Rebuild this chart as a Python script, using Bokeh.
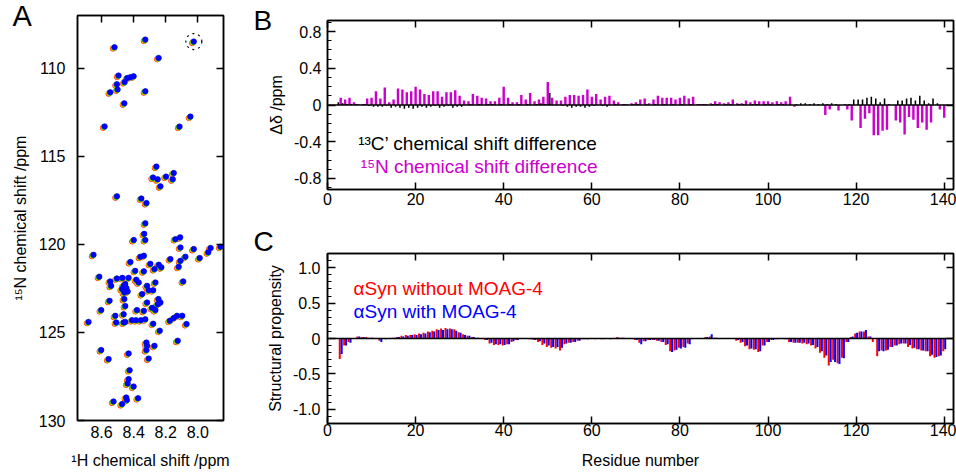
from bokeh.plotting import figure
from bokeh.layouts import row, column
from bokeh.models import (Range1d, FixedTicker, LinearAxis, Span, Label,
                          ColumnDataSource, NumeralTickFormatter)
from bokeh.transform import dodge
from bokeh.embed import file_html
from bokeh.resources import INLINE

FONT = "Liberation Sans"

# ---------------- Panel A: 1H-15N spectrum peaks (final / blue positions) ----
peak_h = [8.327, 8.025, 8.519, 8.244, 8.494, 8.44, 8.42, 8.40, 8.504, 8.456,
          8.546, 8.50, 8.327, 8.458, 8.581, 8.114, 8.046, 8.258, 8.279, 8.250,
          8.198, 8.156, 8.150, 8.233, 8.504, 8.352, 8.320, 8.327, 8.334, 8.327,
          8.399, 8.140, 8.110, 8.108, 8.025, 7.920, 7.858, 7.935, 7.988, 8.650,
          8.336, 8.358, 8.420, 8.296, 8.243, 8.227, 8.171, 8.108, 8.077, 8.119,
          8.270, 8.390, 8.336, 8.614, 8.504, 8.470, 8.546, 8.540, 8.431, 8.383,
          8.368, 8.452, 8.462, 8.445, 8.472, 8.458, 8.437, 8.264, 8.316, 8.091,
          8.306, 8.278, 8.347, 8.550, 8.458, 8.452, 8.245, 8.233, 8.250, 8.316,
          8.602, 8.379, 8.336, 8.285, 8.264, 8.514, 8.462, 8.681, 8.508, 8.462,
          8.452, 8.410, 8.385, 8.355, 8.327, 8.278, 8.174, 8.150, 8.129, 8.097,
          8.070, 8.237, 8.125, 8.320, 8.316, 8.320, 8.270, 8.602, 8.556, 8.431,
          8.306, 8.425, 8.431, 8.437, 8.400, 8.525, 8.472, 8.446, 8.442, 8.372]
peak_n = [108.37, 108.48, 108.80, 109.41, 110.41, 110.55, 110.50, 110.45, 110.90, 110.78,
          111.36, 111.20, 111.30, 111.99, 113.30, 113.31, 112.74, 115.58, 116.20, 116.30,
          116.15, 116.30, 115.94, 116.70, 117.27, 117.39, 117.65, 118.80, 119.40, 119.75,
          119.75, 119.70, 119.60, 120.17, 120.26, 120.20, 120.13, 120.45, 120.77, 120.59,
          120.64, 120.70, 121.00, 121.10, 121.15, 121.30, 120.83, 120.93, 120.70, 121.27,
          121.40, 121.50, 121.53, 121.83, 121.93, 121.90, 122.10, 122.35, 121.90, 122.00,
          122.16, 122.25, 122.35, 122.48, 122.53, 122.73, 122.67, 122.16, 122.35, 122.10,
          122.60, 122.60, 122.82, 123.20, 123.10, 123.50, 123.10, 123.30, 123.40, 123.30,
          123.73, 123.73, 123.77, 123.60, 123.73, 124.05, 123.96, 124.40, 124.43, 124.43,
          124.40, 124.30, 124.30, 124.30, 124.25, 124.50, 124.33, 124.18, 124.05, 124.05,
          124.52, 124.90, 125.47, 125.57, 125.76, 126.00, 125.76, 126.00, 126.51, 126.19,
          126.48, 127.14, 127.65, 127.90, 128.07, 128.92, 129.07, 128.69, 128.84, 128.73]
titration_colors = ["#ff0000", "#ff9900", "#e8e000", "#00c000", "#0000ff"]
titration_dh = [0.010, 0.0075, 0.005, 0.0025, 0.0]
titration_dn = [0.08, 0.06, 0.04, 0.02, 0.0]
circled_h = [8.025]
circled_n = [108.48]
a_x_ticks = [8.0, 8.2, 8.4, 8.6]
a_y_ticks = [110, 115, 120, 125, 130]

# ---------------- Panel B / C: per-residue data ---------------------------------
residues = list(range(1, 141))
n15_diff = [0.0, 0.0, 0.08, 0.06, 0.08, 0.03, 0.01, 0.01, 0.07, 0.08,
            0.15, 0.07, 0.19, 0.03, 0.06, 0.18, 0.17, 0.14, 0.15, 0.20,
            0.17, 0.12, 0.11, 0.15, 0.15, 0.09, 0.14, 0.14, 0.16, 0.10,
            0.05, 0.04, 0.12, 0.10, 0.08, 0.07, 0.04, 0.04, 0.08, 0.20,
            0.08, 0.03, 0.03, 0.11, 0.06, 0.13, 0.04, 0.06, 0.09, 0.25,
            0.08, 0.05, 0.05, 0.09, 0.11, 0.11, 0.10, 0.11, 0.17, 0.09,
            0.12, 0.06, 0.09, 0.10, 0.05, 0.03, 0.01, 0.01, 0.02, 0.03,
            0.06, 0.07, 0.02, 0.06, 0.10, 0.08, 0.08, 0.08, 0.06, 0.08,
            0.10, 0.07, 0.09, 0.01, 0.01, 0.01, 0.02, 0.04, 0.03, 0.02,
            0.03, 0.06, 0.02, 0.02, 0.05, 0.03, 0.05, 0.04, 0.04, 0.04,
            0.03, 0.04, 0.03, 0.04, 0.09, -0.02, 0.0, 0.0, 0.0, 0.0,
            0.0, 0.0, -0.11, -0.05, 0.0, -0.06, 0.0, -0.05, -0.17, 0.0,
            -0.25, -0.15, -0.09, -0.33, -0.33, -0.28, -0.27, 0.0, -0.17, -0.19,
            -0.32, -0.13, -0.16, -0.25, -0.19, -0.27, -0.19, 0.0, -0.05, -0.14]
c13_diff = [0.0, 0.03, 0.02, 0.01, 0.01, 0.01, 0.0, 0.01, -0.01, -0.02,
            -0.02, -0.02, -0.01, -0.03, -0.02, -0.03, -0.04, -0.03, -0.04, -0.03,
            -0.02, -0.03, -0.02, -0.01, -0.03, -0.02, -0.01, -0.03, -0.02, -0.02,
            0.0, 0.01, 0.0, 0.01, 0.0, 0.01, 0.01, 0.0, 0.01, 0.0,
            0.01, 0.0, 0.01, 0.0, 0.01, 0.0, 0.01, 0.02, 0.01, 0.13,
            0.0, 0.0, -0.01, -0.02, -0.03, -0.02, -0.02, -0.03, -0.02, -0.01,
            0.0, -0.01, -0.02, 0.0, 0.01, 0.0, 0.01, 0.0, 0.01, 0.01,
            0.0, 0.01, 0.0, 0.01, 0.0, 0.01, 0.0, 0.01, 0.0, 0.01,
            0.0, 0.01, 0.0, 0.01, 0.01, 0.0, 0.01, 0.01, 0.0, 0.01,
            0.01, 0.0, 0.01, 0.01, 0.0, 0.01, 0.01, 0.0, 0.01, 0.01,
            0.0, 0.01, 0.01, 0.0, 0.0, 0.01, 0.02, 0.02, 0.01, 0.02,
            0.01, 0.02, 0.01, 0.02, 0.01, 0.0, 0.01, 0.01, 0.06, 0.06,
            0.06, 0.08, 0.09, 0.07, 0.03, 0.07, 0.01, 0.0, 0.05, 0.05,
            0.07, 0.08, 0.05, 0.10, 0.05, 0.02, 0.07, 0.02, 0.0, 0.0]
prop_without = [0.0, 0.0, -0.29, -0.10, -0.05, 0.0, 0.03, 0.02, 0.02, 0.01,
                0.0, -0.03, 0.0, 0.0, 0.01, 0.02, 0.04, 0.05, 0.05, 0.06,
                0.07, 0.08, 0.10, 0.11, 0.13, 0.14, 0.15, 0.14, 0.13, 0.09,
                0.06, 0.04, 0.02, 0.01, 0.0, -0.02, -0.07, -0.09, -0.09, -0.10,
                -0.08, -0.05, -0.02, 0.0, 0.0, -0.01, -0.02, -0.05, -0.09, -0.12,
                -0.13, -0.14, -0.17, -0.08, -0.06, -0.05, -0.03, -0.01, -0.01, 0.0,
                -0.01, 0.0, -0.01, 0.0, 0.0, 0.02, 0.01, 0.0, 0.0, -0.02,
                -0.06, -0.04, -0.02, -0.02, -0.03, -0.05, -0.09, -0.18, -0.17, -0.13,
                -0.12, -0.07, -0.01, 0.0, 0.0, 0.02, 0.03, 0.01, 0.0, 0.0,
                0.0, 0.0, -0.03, -0.06, -0.11, -0.15, -0.16, -0.19, -0.10, -0.05,
                -0.02, -0.01, 0.0, -0.01, -0.05, -0.06, -0.06, -0.07, -0.08, -0.10,
                -0.14, -0.20, -0.27, -0.38, -0.30, -0.35, -0.27, -0.05, 0.02, 0.07,
                0.10, 0.10, 0.03, -0.05, -0.25, -0.17, -0.17, -0.12, -0.10, -0.08,
                -0.07, -0.12, -0.14, -0.15, -0.17, -0.18, -0.25, -0.27, -0.25, -0.18]
prop_with = [0.0, 0.0, -0.22, -0.10, -0.06, 0.0, 0.03, 0.02, 0.01, 0.01,
             0.0, -0.05, -0.01, 0.0, 0.01, 0.02, 0.03, 0.04, 0.05, 0.05,
             0.06, 0.07, 0.09, 0.10, 0.12, 0.12, 0.13, 0.13, 0.11, 0.08,
             0.05, 0.04, 0.02, 0.01, 0.0, -0.02, -0.06, -0.08, -0.08, -0.09,
             -0.08, -0.04, -0.02, 0.0, 0.0, -0.01, -0.02, -0.04, -0.07, -0.10,
             -0.12, -0.12, -0.13, -0.07, -0.06, -0.05, -0.03, -0.01, -0.01, 0.0,
             0.0, -0.01, 0.0, -0.01, 0.0, 0.01, 0.01, 0.0, 0.0, -0.02,
             -0.08, -0.04, -0.02, -0.02, -0.03, -0.05, -0.08, -0.19, -0.16, -0.14,
             -0.13, -0.08, 0.0, 0.0, 0.0, 0.02, 0.06, 0.01, 0.0, 0.0,
             0.0, 0.0, -0.02, -0.05, -0.10, -0.14, -0.15, -0.18, -0.10, -0.05,
             -0.02, -0.01, 0.0, -0.01, -0.05, -0.06, -0.06, -0.06, -0.07, -0.09,
             -0.12, -0.18, -0.24, -0.33, -0.33, -0.36, -0.28, -0.05, 0.03, 0.08,
             0.10, 0.12, 0.03, 0.0, -0.18, -0.18, -0.16, -0.12, -0.10, -0.07,
             -0.07, -0.09, -0.13, -0.15, -0.17, -0.18, -0.23, -0.26, -0.24, -0.15]
res_ticks = [0, 20, 40, 60, 80, 100, 120, 140]
b_y_ticks = [-0.8, -0.4, 0, 0.4, 0.8]
b_y_minor = [-0.9, -0.8, -0.7, -0.6, -0.5, -0.4, -0.3, -0.2, -0.1, 0, 0.1, 0.2,
             0.3, 0.4, 0.5, 0.6, 0.7, 0.8, 0.9]
c_y_ticks = [-1.0, -0.5, 0, 0.5, 1.0]
c_y_minor = [-1.1, -1.0, -0.9, -0.8, -0.7, -0.6, -0.5, -0.4, -0.3, -0.2, -0.1, 0,
             0.1, 0.2, 0.3, 0.4, 0.5, 0.6, 0.7, 0.8, 0.9, 1.0, 1.1]

MAGENTA = "#cc00cc"


def style_axis(ax, tick_len=7, minor_len=0, standoff=4, label_standoff=8):
    ax.major_tick_in = tick_len
    ax.major_tick_out = 0
    ax.minor_tick_in = minor_len
    ax.minor_tick_out = 0
    ax.axis_line_color = "black"
    ax.axis_line_width = 1.5
    ax.major_tick_line_color = "black"
    ax.major_tick_line_width = 1.5
    ax.minor_tick_line_color = "black"
    ax.minor_tick_line_width = 1.2
    ax.major_label_text_font = FONT
    ax.major_label_text_font_size = "16px"
    ax.major_label_text_color = "black"
    ax.major_label_standoff = standoff
    ax.axis_label_text_font = FONT
    ax.axis_label_text_font_size = "16px"
    ax.axis_label_text_font_style = "normal"
    ax.axis_label_text_color = "black"
    ax.axis_label_standoff = label_standoff


def tick_only_axis(positions, length):
    # axis that draws only inward tick marks (no labels)
    ax = LinearAxis(ticker=FixedTicker(ticks=[], minor_ticks=positions))
    ax.major_tick_in = 0
    ax.major_tick_out = 0
    ax.minor_tick_in = length
    ax.minor_tick_out = 0
    ax.minor_tick_line_color = "black"
    ax.minor_tick_line_width = 1.5
    ax.axis_line_color = "black"
    ax.axis_line_width = 1.5
    ax.major_label_standoff = 0
    return ax


def base_fig(letter, offset, standoff, font_size, **kw):
    p = figure(output_backend="svg", toolbar_location=None, **kw)
    p.xgrid.visible = False
    p.ygrid.visible = False
    p.outline_line_color = "black"
    p.outline_line_width = 1.5
    p.outline_line_alpha = 1.0
    p.background_fill_color = "white"
    p.border_fill_color = "white"
    p.title.text = letter
    p.title.align = "left"
    p.title.offset = offset
    p.title.standoff = standoff
    p.title.vertical_align = "bottom"
    p.title.text_font = FONT
    p.title.text_font_size = font_size
    p.title.text_font_style = "normal"
    p.title.text_color = "black"
    return p


# ---------------- Panel A ----------------
pa = base_fig("A", -65, -32, "29px", width=234, height=472,
              x_range=Range1d(8.75, 7.84), y_range=Range1d(130, 107),
              min_border_left=77, min_border_right=11, min_border_top=15,
              min_border_bottom=52,
              x_axis_label="¹H chemical shift /ppm",
              y_axis_label="¹⁵N chemical shift /ppm")
pa.xaxis.ticker = FixedTicker(ticks=a_x_ticks)
pa.yaxis.ticker = FixedTicker(ticks=a_y_ticks)
pa.xaxis.formatter = NumeralTickFormatter(format="0.0")
style_axis(pa.xaxis[0], tick_len=0, standoff=5, label_standoff=11)
style_axis(pa.yaxis[0], tick_len=7, standoff=12, label_standoff=7)
pa.add_layout(tick_only_axis(a_x_ticks, 7), "above")
pa.add_layout(tick_only_axis(a_y_ticks, 7), "right")

for col, dh, dn in zip(titration_colors, titration_dh, titration_dn):
    pa.scatter([h + dh for h in peak_h], [n + dn for n in peak_n],
               size=5.5, marker="circle", fill_color=col, line_color=col,
               line_width=0.5)
pa.scatter(circled_h, circled_n, size=16, marker="circle", fill_color=None,
           line_color="black", line_dash="dotted", line_width=1.2)

# ---------------- Panel B ----------------
src = ColumnDataSource(dict(res=residues, n15=n15_diff, c13=c13_diff,
                            wo=prop_without, w=prop_with))

pb = base_fig("B", -74, -31, "28px", width=722, height=222,
              x_range=Range1d(0, 142.1), y_range=Range1d(-0.92, 0.92),
              min_border_left=93, min_border_right=3, min_border_top=20,
              min_border_bottom=33, y_axis_label="Δδ /ppm")
pb.xaxis.ticker = FixedTicker(ticks=res_ticks)
pb.yaxis.ticker = FixedTicker(ticks=b_y_ticks, minor_ticks=b_y_minor)
pb.yaxis.formatter = NumeralTickFormatter(format="0.0")
pb.yaxis.major_label_overrides = {0: "0"}
style_axis(pb.xaxis[0], tick_len=7, standoff=3)
style_axis(pb.yaxis[0], tick_len=8, minor_len=4, standoff=6, label_standoff=6)
pb.add_layout(tick_only_axis(res_ticks, 7), "above")
pb.add_layout(tick_only_axis(b_y_ticks, 7), "right")

pb.vbar(x="res", top="n15", bottom=0, width=0.55, source=src,
        fill_color=MAGENTA, line_color=None)
pb.vbar(x=dodge("res", 0.45, range=pb.x_range), top="c13", bottom=0, width=0.35,
        source=src, fill_color="black", line_color=None)
pb.add_layout(Span(location=0, dimension="width", line_color="black", line_width=1.5))
pb.add_layout(Label(x=270, y=46, x_units="screen", y_units="screen",
                    text="¹³C’ chemical shift difference", text_align="right",
                    text_font=FONT, text_font_size="19px",
                    text_baseline="alphabetic", text_color="black"))
pb.add_layout(Label(x=270, y=23, x_units="screen", y_units="screen",
                    text="¹⁵N chemical shift difference", text_align="right",
                    text_font=FONT, text_font_size="19px",
                    text_baseline="alphabetic", text_color=MAGENTA))

# ---------------- Panel C ----------------
pc = base_fig("C", -74, -6, "28px", width=722, height=250,
              x_range=pb.x_range, y_range=Range1d(-1.2, 1.2),
              min_border_left=93, min_border_right=3, min_border_top=31,
              min_border_bottom=49, x_axis_label="Residue number",
              y_axis_label="Structural propensity")
pc.xaxis.ticker = FixedTicker(ticks=res_ticks)
pc.yaxis.ticker = FixedTicker(ticks=c_y_ticks, minor_ticks=c_y_minor)
pc.yaxis.formatter = NumeralTickFormatter(format="0.0")
pc.yaxis.major_label_overrides = {0: "0"}
style_axis(pc.xaxis[0], tick_len=7, standoff=0, label_standoff=13)
style_axis(pc.yaxis[0], tick_len=8, minor_len=4, standoff=7, label_standoff=6)
pc.add_layout(tick_only_axis(res_ticks, 7), "above")
pc.add_layout(tick_only_axis(c_y_ticks, 7), "right")

pc.vbar(x=dodge("res", -0.22, range=pc.x_range), top="wo", bottom=0, width=0.45,
        source=src, fill_color="#ff0000", line_color=None)
pc.vbar(x=dodge("res", 0.22, range=pc.x_range), top="w", bottom=0, width=0.45,
        source=src, fill_color="#0000ff", line_color=None)
pc.add_layout(Span(location=0, dimension="width", line_color="black", line_width=1.5))
pc.add_layout(Label(x=26, y=135, x_units="screen", y_units="screen",
                    text="αSyn without MOAG-4",
                    text_font=FONT, text_font_size="19px",
                    text_baseline="alphabetic", text_color="#ff0000"))
pc.add_layout(Label(x=26, y=112, x_units="screen", y_units="screen",
                    text="αSyn with MOAG-4",
                    text_font=FONT, text_font_size="19px",
                    text_baseline="alphabetic", text_color="#0000ff"))

layout = row(pa, column(pb, pc))
open("out.html", "w").write(file_html(layout, INLINE))
